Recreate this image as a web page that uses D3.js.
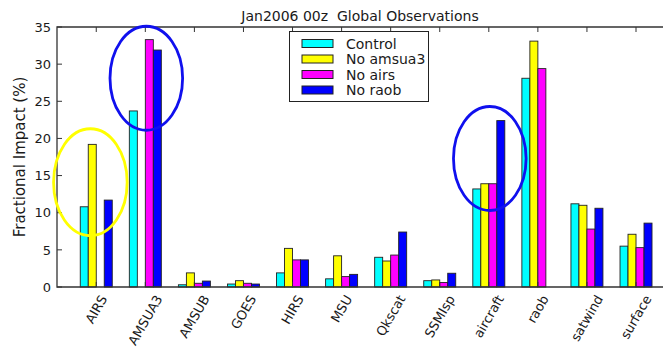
<!DOCTYPE html>
<html>
<head>
<meta charset="utf-8">
<script src="https://cdn.jsdelivr.net/npm/d3@7"></script>
<style>
  body { margin: 0; background: #fff; }
  text { font-family: "DejaVu Sans", sans-serif; fill: #1a1a1a; }
</style>
</head>
<body>
<div id="chart"></div>
<script>
// observation types on the x axis
var categories = ["AIRS", "AMSUA3", "AMSUB", "GOES", "HIRS", "MSU", "Qkscat", "SSMIsp", "aircraft", "raob", "satwind", "surface"];

// fractional impact (%) per experiment
var control  = [10.8, 23.7, 0.3, 0.4, 1.9, 1.1, 4.0, 0.85, 13.2, 28.1, 11.2, 5.5];
var noAmsua3 = [19.2, 0, 1.9, 0.85, 5.2, 4.2, 3.5, 0.95, 13.9, 33.1, 11.0, 7.1];
var noAirs   = [0, 33.3, 0.5, 0.5, 3.65, 1.4, 4.3, 0.6, 13.9, 29.4, 7.8, 5.3];
var noRaob   = [11.7, 31.9, 0.8, 0.4, 3.65, 1.7, 7.4, 1.85, 22.4, 0, 10.6, 8.6];

var seriesNames = ["Control", "No amsua3", "No airs", "No raob"];
var yTicks = [0, 5, 10, 15, 20, 25, 30, 35];

var series = [control, noAmsua3, noAirs, noRaob];
var colors = ["#00ffff", "#ffff00", "#ff00ff", "#0000ff"];

var width = 663, height = 350;
var margin = {top: 27, left: 57, bottom: 63};

var svg = d3.select("#chart")
    .append("svg")
    .attr("width", width)
    .attr("height", height);

var x = d3.scaleLinear()
    .domain([-0.8, 11.55])
    .range([margin.left, width]);

var y = d3.scaleLinear()
    .domain([0, 35])
    .range([height - margin.bottom, margin.top]);

var bw = 0.163; // bar width in category units

// bars
series.forEach(function(vals, s) {
    svg.append("g").selectAll("rect")
        .data(vals.map(function(v, i) { return [i, v]; }).filter(function(d) { return d[1] > 0; }))
        .enter()
        .append("rect")
        .attr("x", function(d) { return x(d[0] + (s - 2) * bw); })
        .attr("y", function(d) { return y(d[1]); })
        .attr("width", x(bw) - x(0))
        .attr("height", function(d) { return y(0) - y(d[1]); })
        .style("fill", colors[s])
        .style("stroke", "#222")
        .style("stroke-width", 0.9);
});

// frame
var x0 = margin.left, x1 = width + 2, yb = y(0), yt = y(35);
svg.append("path")
    .attr("d", "M" + x1 + "," + yt + "H" + x0 + "V" + yb + "H" + x1)
    .style("fill", "none")
    .style("stroke", "#333")
    .style("stroke-width", 1.3);

// y ticks (inward) and labels
yTicks.forEach(function(t) {
    svg.append("line")
        .attr("x1", x0).attr("x2", x0 + 5)
        .attr("y1", y(t)).attr("y2", y(t))
        .style("stroke", "#333");
    svg.append("text")
        .attr("x", x0 - 6)
        .attr("y", y(t))
        .attr("dy", "0.36em")
        .attr("text-anchor", "end")
        .style("font-size", "13px")
        .text(t);
});

// x ticks top and bottom, rotated labels
categories.forEach(function(c, i) {
    svg.append("line")
        .attr("x1", x(i)).attr("x2", x(i))
        .attr("y1", yt).attr("y2", yt + 5)
        .style("stroke", "#333");
    svg.append("line")
        .attr("x1", x(i)).attr("x2", x(i))
        .attr("y1", yb).attr("y2", yb - 5)
        .style("stroke", "#333");
    var t = svg.append("text")
        .attr("text-anchor", "middle")
        .attr("dominant-baseline", "central")
        .style("font-size", "13px")
        .text(c);
    var w = t.node().getComputedTextLength();
    var h = 13;
    var bh = w * Math.sin(Math.PI / 3) + h * Math.cos(Math.PI / 3);
    var cy = yb + 6 + bh / 2;
    t.attr("transform", "translate(" + x(i) + "," + cy + ") rotate(-60)");
});

// title and y label
svg.append("text")
    .attr("x", (x0 + width) / 2)
    .attr("y", 21)
    .attr("text-anchor", "middle")
    .style("font-size", "14px")
    .style("white-space", "pre")
    .text("Jan2006 00z  Global Observations");

svg.append("text")
    .attr("transform", "translate(25,157) rotate(-90)")
    .attr("text-anchor", "middle")
    .style("font-size", "15px")
    .text("Fractional Impact (%)");

// legend
var legend = svg.append("g");
legend.append("rect")
    .attr("x", 289.5).attr("y", 31.5)
    .attr("width", 139).attr("height", 70)
    .style("fill", "#fff")
    .style("stroke", "#222");
seriesNames.forEach(function(n, s) {
    var cy = 43.5 + s * 15.5;
    legend.append("rect")
        .attr("x", 302).attr("y", cy - 4)
        .attr("width", 31).attr("height", 8)
        .style("fill", colors[s])
        .style("stroke", "#222");
    legend.append("text")
        .attr("x", 346).attr("y", cy)
        .attr("dy", "0.36em")
        .style("font-size", "14px")
        .text(n);
});

// hand-drawn highlight ellipses
var marks = [
    {cx: -0.12, cy: 14.1, rx: 0.75, ry: 7.2, color: "#ffff00"},
    {cx: 1.02, cy: 28.1, rx: 0.74, ry: 7.0, color: "#1010ee"},
    {cx: 8.02, cy: 17.3, rx: 0.74, ry: 7.0, color: "#1010ee"}
];
marks.forEach(function(m) {
    svg.append("ellipse")
        .attr("cx", x(m.cx))
        .attr("cy", y(m.cy))
        .attr("rx", x(m.rx) - x(0))
        .attr("ry", y(0) - y(m.ry))
        .style("fill", "none")
        .style("stroke", m.color)
        .style("stroke-width", 2.8);
});
</script>
</body>
</html>
